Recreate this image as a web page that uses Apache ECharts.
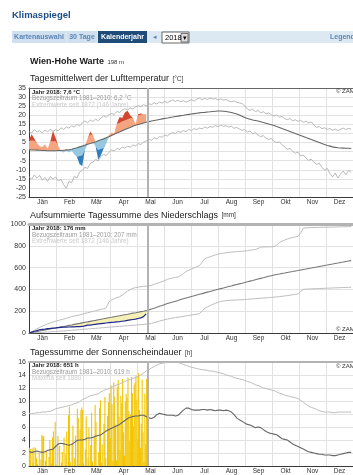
<!DOCTYPE html>
<html><head><meta charset="utf-8">
<script src="https://cdn.jsdelivr.net/npm/echarts@6/dist/echarts.min.js"></script>
<style>html,body{margin:0;padding:0;background:#fff;overflow:hidden}#c{width:353px;height:475px}</style>
</head><body><div id="c"></div>
<script>
const months = ['Jän','Feb','Mär','Apr','Mai','Jun','Jul','Aug','Sep','Okt','Nov','Dez'];
const STEP = 3;        // sampling step in days for the line series
const TODAY = 134;     // day of year of the current date marker

// ---- Lufttemperatur (°C), every 3 days ----
const tClim = [1.0,0.9,0.9,0.8,0.7,0.6,0.6,0.5,0.5,0.5,
0.5,0.6,0.6,0.7,0.8,1.0,1.3,1.7,2.1,2.6,
3.0,3.5,4.0,4.4,4.9,5.3,5.9,6.5,7.0,7.6,
8.2,8.9,9.5,10.2,10.8,11.5,12.1,12.7,13.3,13.9,
14.5,14.9,15.3,15.7,16.1,16.5,16.8,17.1,17.4,17.7,
18.0,18.3,18.5,18.8,19.0,19.3,19.5,19.8,20.0,20.3,
20.5,20.7,20.9,21.1,21.3,21.5,21.6,21.8,21.9,22.1,
22.2,22.3,22.3,22.2,22.1,21.8,21.5,21.1,20.7,20.1,
19.5,18.8,18.2,17.8,17.4,17.1,16.8,16.4,16.0,15.6,
15.2,14.8,14.4,13.8,13.3,12.7,12.2,11.6,11.1,10.5,
10.0,9.4,8.9,8.3,7.7,7.2,6.6,6.1,5.5,5.0,
4.4,3.9,3.4,3.0,2.6,2.3,2.1,2.0,1.9,1.8,
1.8,1.7];
const tMax = [11.0,10.2,12.1,10.8,11.5,10.4,11.9,10.9,12.3,11.2,
12.0,11.4,13.1,12.2,13.6,12.9,14.2,13.5,15.0,14.1,
15.8,16.9,15.9,17.3,16.6,17.8,17.0,18.4,19.6,18.9,
20.3,21.0,20.4,22.1,21.5,22.8,23.6,22.9,24.1,23.4,
24.6,25.3,24.7,25.9,25.2,26.4,25.8,26.9,26.2,27.3,
26.7,27.6,26.9,27.8,28.4,27.6,28.3,27.4,28.0,27.2,
27.9,28.6,27.8,28.9,29.4,28.6,29.3,28.7,29.5,28.9,
29.2,28.4,29.0,28.3,28.7,27.9,27.4,27.9,27.1,26.8,
26.4,25.2,23.4,22.7,23.3,22.1,22.6,21.4,21.9,20.8,
21.3,20.2,19.6,20.1,18.9,19.4,18.1,17.6,18.2,17.0,
17.5,16.6,17.2,16.1,16.7,15.8,16.3,14.7,13.2,13.8,
12.6,13.1,12.2,12.7,11.8,12.4,11.6,12.3,12.9,12.1,
12.8,12.4];
const tMin = [-13.8,-15.2,-12.9,-14.6,-13.1,-15.8,-14.2,-16.4,-13.7,-15.1,
-14.0,-16.2,-15.3,-18.1,-20.3,-16.4,-17.2,-13.6,-14.5,-11.2,
-10.4,-8.6,-9.3,-6.5,-5.8,-4.4,-5.1,-2.6,-1.5,-2.2,
-0.4,0.9,0.3,1.8,1.1,2.5,1.9,3.0,2.4,3.6,
3.1,4.4,3.9,5.2,5.8,6.9,6.2,7.6,7.0,8.3,
7.9,9.1,8.6,9.8,10.4,9.9,11.2,10.6,11.5,11.0,
12.2,11.6,12.6,12.1,13.0,12.5,13.6,12.9,13.8,13.3,
14.4,13.7,14.6,13.9,14.2,13.5,13.9,12.8,13.3,12.4,
11.7,12.1,10.8,11.3,9.9,10.4,9.1,8.2,8.8,7.3,
6.7,7.2,5.6,4.9,5.4,3.8,2.6,1.2,1.8,0.2,
-0.9,-0.3,-2.4,-1.9,-3.6,-4.8,-4.2,-5.9,-7.1,-6.4,
-8.6,-10.3,-9.2,-12.1,-13.9,-11.8,-14.6,-12.4,-10.7,-12.8,
-10.3,-11.5];
const t2018 = [6.5,9.5,7.0,4.5,3.0,2.5,4.0,1.5,5.5,11.5,
7.5,3.0,0.0,-0.5,1.5,-0.5,0.5,-1.5,-3.0,-7.0,
-8.0,1.0,7.0,11.0,9.0,3.0,-4.5,-2.0,1.5,4.5,
9.0,10.5,10.0,15.5,19.0,18.5,21.5,22.5,20.0,18.5,
15.0,20.5,21.0,20.5,20.5];
const tTicks = {min:-25, max:35, interval:5};

// ---- Niederschlag kumuliert (mm), every 3 days ----
const pClim = [0,5,9,14,19,23,28,33,37,42,
46,51,56,60,65,70,74,79,84,88,
93,98,102,107,112,116,121,126,130,135,
140,144,149,154,158,163,168,172,177,182,
186,191,196,200,205,212,220,228,237,245,
253,262,270,278,285,292,299,307,314,321,
328,335,341,348,355,361,368,375,381,388,
394,401,407,413,420,426,432,439,445,451,
457,464,470,476,482,489,495,501,507,514,
520,526,532,537,541,546,550,555,560,564,
569,573,578,583,587,592,596,601,605,610,
615,620,624,629,633,638,642,647,651,656,
660,664];
const pMax = [0,12,25,38,52,63,72,84,92,100,
108,115,121,128,135,142,150,156,160,165,
172,180,186,192,198,204,210,216,222,232,
285,303,315,325,332,348,366,384,398,410,
416,421,425,428,430,432,438,446,455,463,
472,482,492,499,505,510,515,528,545,565,
575,586,597,608,618,650,681,691,699,708,
716,723,728,732,736,739,742,744,746,748,
750,752,756,760,763,766,775,789,789,790,
790,791,792,805,830,842,853,862,870,876,
882,886,920,962,965,966,967,968,968,969,
970,970,971,971,972,972,973,974,975,975,
976,976];
const pMin = [0,1,2,3,5,6,8,9,11,12,
14,16,18,19,21,23,25,27,29,31,
33,35,37,39,41,43,45,47,49,51,
53,55,57,59,61,63,65,67,69,71,
73,75,77,79,81,83,88,95,102,109,
116,122,128,133,138,142,145,149,153,157,
161,165,169,173,177,200,228,240,252,262,
272,282,289,294,297,299,301,302,303,304,
305,307,309,311,313,315,317,319,321,323,
325,327,329,331,334,337,340,343,347,351,
355,358,380,400,402,404,405,406,407,408,
409,410,411,412,413,414,415,416,417,418,
419,420];
const p2018 = [0,8,16,22,30,34,36,40,42,45,
47,50,52,53,54,55,56,57,58,58,
60,66,72,73,76,80,83,86,89,92,
95,97,99,102,104,108,111,116,120,124,
127,133,138,150,176];
const pTicks = {min:0, max:1000, interval:200};

// ---- Sonnenscheindauer (h) ----
const sClim = [2.2,2.1,2.2,2.3,2.2,2.1,2.2,2.4,2.5,2.6,
3.0,3.4,3.5,3.4,3.3,3.2,3.3,3.6,3.9,4.0,
4.0,4.1,4.3,4.3,4.4,4.6,4.7,4.8,5.1,5.4,
5.6,5.8,6.0,6.2,6.4,6.7,7.0,7.3,7.5,7.6,
7.7,7.7,7.8,7.8,7.6,7.4,7.3,7.5,7.9,8.1,
8.0,7.9,7.8,7.8,7.8,7.7,7.8,8.2,8.6,8.9,
8.9,8.7,8.6,8.6,8.6,8.7,8.7,8.6,8.7,8.6,
8.5,8.6,8.6,8.5,8.6,8.5,8.3,7.9,7.4,7.1,
6.9,6.6,6.4,6.3,6.1,5.9,6.0,5.9,5.6,5.3,
5.1,5.0,4.9,4.8,4.5,4.2,4.1,4.0,3.7,3.4,
3.2,3.0,2.8,2.6,2.4,2.2,2.1,2.0,1.9,1.8,
1.8,1.7,1.7,1.7,1.6,1.6,1.7,1.8,1.9,2.0,
2.1,2.1];
const sMax = [8.1,8.1,8.1,8.2,8.2,8.3,8.3,8.4,8.4,8.6,
8.8,8.9,9.0,9.1,9.2,9.3,9.4,9.6,9.7,9.9,
10.2,10.4,10.6,10.8,10.9,11.0,11.1,11.4,11.6,11.8,
11.9,12.1,12.3,12.5,12.6,12.8,13.0,13.2,13.3,13.5,
13.6,13.8,14.0,14.3,14.6,14.8,15.1,15.3,15.5,15.7,
15.8,15.9,15.9,16.0,16.0,16.0,15.9,15.8,15.6,15.5,
15.3,15.2,15.1,15.0,14.9,14.8,14.8,14.7,14.6,14.6,
14.5,14.4,14.3,14.2,14.0,13.9,13.8,13.6,13.5,13.4,
13.3,13.2,13.0,12.9,12.7,12.5,12.4,12.2,12.0,11.9,
11.8,11.7,11.6,11.4,11.2,11.1,10.9,10.8,10.7,10.6,
10.5,10.4,10.1,9.8,9.5,9.2,9.0,8.9,8.7,8.5,
8.4,8.3,8.3,8.3,8.2,8.2,8.3,8.3,8.3,8.3,
8.3,8.3];
// daily 2018 values, 1 Jan .. 14 May
const s2018 = [2.8,2.6,0.0,2.7,0.5,2.9,0.0,2.8,1.2,0.3,0.0,2.1,0.0,1.0,4.8,4.5,4.6,0.0,0.8,2.3,0.0,0.0,1.4,4.0,2.6,0.4,4.4,5.3,0.0,6.8,0.2,
0.0,4.6,0.0,3.1,0.0,0.5,2.2,0.0,4.4,0.0,1.8,5.3,0.0,7.8,9.1,0.6,0.0,3.5,6.2,0.0,1.2,4.7,0.0,8.8,7.4,0.3,5.6,8.6,
9.0,8.6,0.4,0.0,2.5,7.6,0.0,1.3,5.9,0.0,3.2,8.2,0.7,0.0,4.4,9.4,6.8,0.0,0.0,2.1,8.9,10.1,0.5,3.3,0.0,6.5,10.6,1.2,0.0,7.7,9.8,
11.2,4.3,12.4,9.5,0.8,12.9,10.7,6.4,0.9,12.1,13.2,7.6,2.5,10.8,9.7,13.4,5.2,1.6,9.9,11.1,10.5,13.6,8.4,3.8,7.9,13.7,11.2,6.1,12.5,12.8,
13.9,10.2,4.1,14.3,8.6,2.8,6.5,13.3,5.2,0.6,11.1,3.4,13.4,8.8];
const sTicks = {min:0, max:16, interval:2};

// ---------------------------------------------------------------
const F = '"Liberation Sans", Arial, sans-serif';
const pairs = (arr) => arr.map((v, i) => [i * STEP, v]);
const T_DARK = 5;

// anomaly band levels (derived from the read values)
const anom = t2018.map((v, i) => v - tClim[i]);
const lvl0 = t2018.map((v, i) => tClim[i]);
const lvlPL = anom.map((a, i) => lvl0[i] + (a > 0 ? Math.min(a, T_DARK) : 0));
const lvlPD = anom.map((a, i) => lvl0[i] + (a > 0 ? a : 0));
const lvlNL = anom.map((a, i) => lvl0[i] + (a < 0 ? Math.max(a, -T_DARK) : 0));
const lvlND = anom.map((a, i) => lvl0[i] + (a < 0 ? a : 0));
const pClimPart = p2018.map((v, i) => pClim[i]);

const chart = echarts.init(document.getElementById('c'), null, {renderer: 'canvas', width: 353, height: 475});

const grids = [
  {left: 29, top: 88, width: 330, height: 109},
  {left: 29, top: 224, width: 330, height: 109},
  {left: 29, top: 362, width: 330, height: 108}
];
function monthAxis(gi) {
  return {type: 'category', gridIndex: gi, data: months, boundaryGap: true, position: 'bottom',
    axisLine: {onZero: false, lineStyle: {color: '#3a3a3a', width: 1}}, axisTick: {show: false},
    axisLabel: {fontSize: 6.5, color: '#333', margin: 2, fontFamily: F, interval: 0},
    splitLine: {show: true, interval: 0, lineStyle: {color: '#e2e2e2', width: 1}}};
}
function dayAxis(gi, c, w) {
  return {type: 'value', gridIndex: gi, min: 0, max: 365, position: 'top',
    axisLine: {show: true, onZero: false, lineStyle: {color: c, width: w}},
    axisTick: {show: false}, axisLabel: {show: false}, splitLine: {show: false}};
}
function yAx(gi, t) {
  return {type: 'value', gridIndex: gi, min: t.min, max: t.max, interval: t.interval,
    axisLine: {show: true, onZero: false, lineStyle: {color: '#3a3a3a', width: 1}}, axisTick: {show: false},
    axisLabel: {fontSize: 7, color: '#333', margin: 3, fontFamily: F, formatter: v => String(v)},
    splitLine: {lineStyle: {color: '#e2e2e2', width: 1}}};
}
const todayLine = {silent: true, symbol: ['none', 'none'], label: {show: false},
  lineStyle: {color: '#b3b3b3', width: 2, type: 'solid'}, data: [{xAxis: TODAY}]};

function line(xi, yi, data, color, width, extra) {
  return Object.assign({type: 'line', xAxisIndex: xi, yAxisIndex: yi, data: data, showSymbol: false,
    symbol: 'none', smooth: false, lineStyle: {color: color, width: width}, silent: true}, extra || {});
}
// filled band between two sampled curves, one polygon, drawn through the axis scales
function band(xi, yi, lower, upper, color) {
  return {type: 'custom', xAxisIndex: xi, yAxisIndex: yi, data: [[0, lower[0]]], silent: true,
    encode: {x: 0, y: 1},
    renderItem: function (params, api) {
      const pts = [];
      for (let i = 0; i < upper.length; i++) pts.push(api.coord([i * STEP, upper[i]]));
      for (let i = lower.length - 1; i >= 0; i--) pts.push(api.coord([i * STEP, lower[i]]));
      return {type: 'polygon', shape: {points: pts}, style: {fill: color}};
    }};
}

const series = [
  // chart 1
  line(1, 0, pairs(tMax), '#a8a8a8', 0.8),
  line(1, 0, pairs(tMin), '#a8a8a8', 0.8),
  band(1, 0, lvl0, lvlPL, '#f4a47e'),
  band(1, 0, lvlPL, lvlPD, '#d4472f'),
  band(1, 0, lvl0, lvlNL, '#96c8e2'),
  band(1, 0, lvlNL, lvlND, '#2f7fbd'),
  line(1, 0, pairs(tClim), '#666', 1.1, {markLine: todayLine}),
  // chart 2
  line(3, 1, pairs(pMax), '#bdbdbd', 1),
  line(3, 1, pairs(pMin), '#bdbdbd', 1),
  band(3, 1, p2018, pClimPart, '#f6efb6'),
  line(3, 1, pairs(pClim), '#777', 1.1, {markLine: todayLine}),
  line(3, 1, pairs(p2018), '#1f2a8c', 1.2),
  // chart 3
  line(5, 2, pairs(sMax), '#bdbdbd', 1),
  {type: 'bar', xAxisIndex: 5, yAxisIndex: 2, data: s2018.map((v, i) => [i + 0.5, v]),
    barWidth: 1.1, itemStyle: {color: '#f3c500'}, silent: true},
  line(5, 2, pairs(sClim), '#666', 1.1, {markLine: todayLine})
];

function txt(x, y, text, size, fill, weight, align) {
  return {type: 'text', silent: true, z: 100, style: {text: text, x: x, y: y, fill: fill,
    fontSize: size, fontFamily: F, fontWeight: weight || 'normal',
    textAlign: align || 'left', textVerticalAlign: 'middle', align: align || 'left', verticalAlign: 'middle'}};
}
function rich(x, y, a, b, sa, sb, weight) {
  return {type: 'text', silent: true, z: 100, style: {text: '{a|' + a + '} {b|' + b + '}', x: x, y: y,
    textVerticalAlign: 'middle', verticalAlign: 'middle',
    rich: {a: {fontSize: sa, fontFamily: F, fill: '#1a1a1a', fontWeight: weight || 'normal'},
           b: {fontSize: sb, fontFamily: F, fill: '#333', fontWeight: 'normal'}}}};
}
const navC = '#5b86b8';
const graphic = [
  txt(12, 15, 'Klimaspiegel', 9.5, '#1b4f86', 'bold'),
  {type: 'rect', silent: true, shape: {x: 12, y: 31, width: 341, height: 12}, style: {fill: '#dce8f2'}},
  {type: 'rect', silent: true, shape: {x: 12, y: 31, width: 54, height: 12}, style: {fill: '#d0e0ee'}},
  {type: 'rect', silent: true, shape: {x: 67, y: 31, width: 30, height: 12}, style: {fill: '#d0e0ee'}},
  {type: 'rect', silent: true, shape: {x: 98, y: 31, width: 49, height: 12}, style: {fill: '#1e4b78'}},
  txt(39, 37.5, 'Kartenauswahl', 7, navC, 'bold', 'center'),
  txt(82, 37.5, '30 Tage', 7, navC, 'bold', 'center'),
  txt(122.5, 37.5, 'Kalenderjahr', 7, '#fff', 'bold', 'center'),
  txt(155, 37.5, '◂', 7, navC, 'normal', 'center'),
  {type: 'rect', silent: true, shape: {x: 162, y: 32, width: 27, height: 11}, style: {fill: '#fff', stroke: '#666', lineWidth: 1}},
  txt(165, 38, '2018', 7.5, '#000'),
  {type: 'rect', silent: true, shape: {x: 181, y: 33.5, width: 7, height: 8.5}, style: {fill: '#dedede', stroke: '#555', lineWidth: 0.8}},
  txt(184.5, 38, '▾', 7, '#000', 'normal', 'center'),
  txt(330, 37.5, 'Legend', 7, navC, 'bold'),
  rich(30, 62, 'Wien-Hohe Warte', '198 m', 9, 6, 'bold'),
  rich(30, 79, 'Tagesmittelwert der Lufttemperatur', '[°C]', 9, 6.5),
  rich(30, 215.5, 'Aufsummierte Tagessumme des Niederschlags', '[mm]', 9, 6.5),
  rich(30, 353, 'Tagessumme der Sonnenscheindauer', '[h]', 9, 6.5),
  txt(32, 92, 'Jahr 2018: 7,6 °C', 6, '#222', 'bold'),
  txt(32, 98.5, 'Bezugszeitraum 1981–2010: 6,2 °C', 6.3, '#9a9a9a'),
  txt(32, 105, 'Extremwerte seit 1872 (146 Jahre)', 6.3, '#cacaca'),
  txt(336, 91.5, '© ZAMG', 6, '#333'),
  txt(32, 228.5, 'Jahr 2018: 176 mm', 6, '#222', 'bold'),
  txt(32, 235, 'Bezugszeitraum 1981–2010: 207 mm', 6.3, '#9a9a9a'),
  txt(32, 241.5, 'Extremwerte seit 1872 (146 Jahre)', 6.3, '#cacaca'),
  txt(336, 329, '© ZAMG', 6, '#333'),
  txt(32, 365.5, 'Jahr 2018: 651 h', 6, '#222', 'bold'),
  txt(32, 372, 'Bezugszeitraum 1981–2010: 619 h', 6.3, '#9a9a9a'),
  txt(32, 378.5, 'Maxima seit 1880', 6.3, '#cacaca'),
  txt(336, 366, '© ZAMG', 6, '#333')
];

chart.setOption({
  animation: false,
  backgroundColor: '#fff',
  textStyle: {fontFamily: F},
  grid: grids,
  xAxis: [monthAxis(0), dayAxis(0, '#666', 1), monthAxis(1), dayAxis(1, '#b3b3b3', 3), monthAxis(2), dayAxis(2, '#b3b3b3', 2)],
  yAxis: [yAx(0, tTicks), yAx(1, pTicks), yAx(2, sTicks)],
  series: series,
  graphic: graphic
});
</script>
</body></html>
